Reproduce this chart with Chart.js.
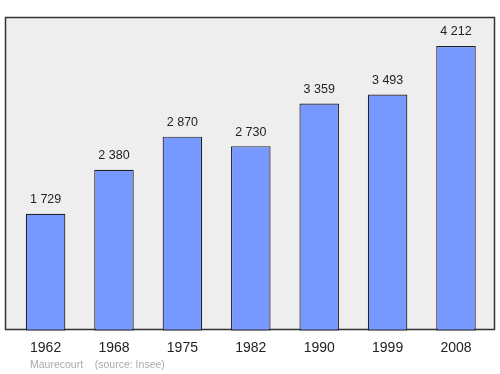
<!DOCTYPE html>
<html>
<head>
<meta charset="utf-8">
<script src="https://cdn.jsdelivr.net/npm/chart.js@4"></script>
<style>
  html, body { margin: 0; padding: 0; background: #fff; }
  #wrap { width: 500px; height: 374px; }
</style>
</head>
<body>
<div id="wrap"><canvas id="myChart"></canvas></div>
<script>
// population by census year
const years = ['1962', '1968', '1975', '1982', '1990', '1999', '2008'];
const population = [1729, 2380, 2870, 2730, 3359, 3493, 4212];
const footerText = 'Maurecourt    (source: Insee)';

const FONT = '"Liberation Sans", Arial, sans-serif';

function fmt(v) {
  return v.toString().replace(/\B(?=(\d{3})+(?!\d))/g, ' ');
}

// grey framed box behind the bars
const boxPlugin = {
  id: 'box',
  beforeDraw(chart) {
    const ctx = chart.ctx;
    const x0 = 5, y0 = 17, x1 = 495, y1 = 330;
    ctx.save();
    ctx.fillStyle = '#eeeeee';
    ctx.fillRect(x0, y0, x1 - x0, y1 - y0);
    ctx.strokeStyle = '#333333';
    ctx.lineWidth = 1.5;
    ctx.strokeRect(x0 + 0.5, y0 + 0.5, x1 - x0 - 1, y1 - y0 - 1);
    ctx.restore();
  },
  afterDraw(chart) {
    const ctx = chart.ctx;
    ctx.save();
    ctx.font = '10.5px ' + FONT;
    ctx.fillStyle = '#aaaaaa';
    ctx.textBaseline = 'middle';
    ctx.textAlign = 'left';
    ctx.fillText(footerText, 30, 365);
    ctx.restore();
  }
};

// value labels above bars
const labelPlugin = {
  id: 'valueLabels',
  afterDatasetsDraw(chart) {
    const ctx = chart.ctx;
    const meta = chart.getDatasetMeta(0);
    ctx.save();
    ctx.font = '12.5px ' + FONT;
    ctx.fillStyle = '#222222';
    ctx.textAlign = 'center';
    ctx.textBaseline = 'middle';
    meta.data.forEach(function (bar, i) {
      ctx.fillText(fmt(population[i]), bar.x, bar.y - 14);
    });
    ctx.restore();
  }
};

const data = {
  labels: years,
  datasets: [{
    data: population,
    backgroundColor: '#7799ff',
    borderColor: '#222222',
    borderWidth: 1.2,
    borderSkipped: false,
    categoryPercentage: 1,
    barPercentage: 0.578
  }]
};

const config = {
  type: 'bar',
  data: data,
  options: {
    responsive: true,
    maintainAspectRatio: false,
    animation: false,
    layout: {
      padding: { left: 11.4, right: 9.8, top: 17, bottom: 8.5 }
    },
    plugins: {
      legend: { display: false },
      tooltip: { enabled: false }
    },
    scales: {
      x: {
        grid: { display: false, drawTicks: false },
        border: { display: false },
        ticks: {
          padding: 9,
          color: '#222222',
          font: { family: FONT, size: 14 }
        }
      },
      y: {
        display: false,
        min: 0,
        max: 4640
      }
    }
  },
  plugins: [boxPlugin, labelPlugin]
};

const ctx = document.getElementById('myChart');
new Chart(ctx, config);
</script>
</body>
</html>
